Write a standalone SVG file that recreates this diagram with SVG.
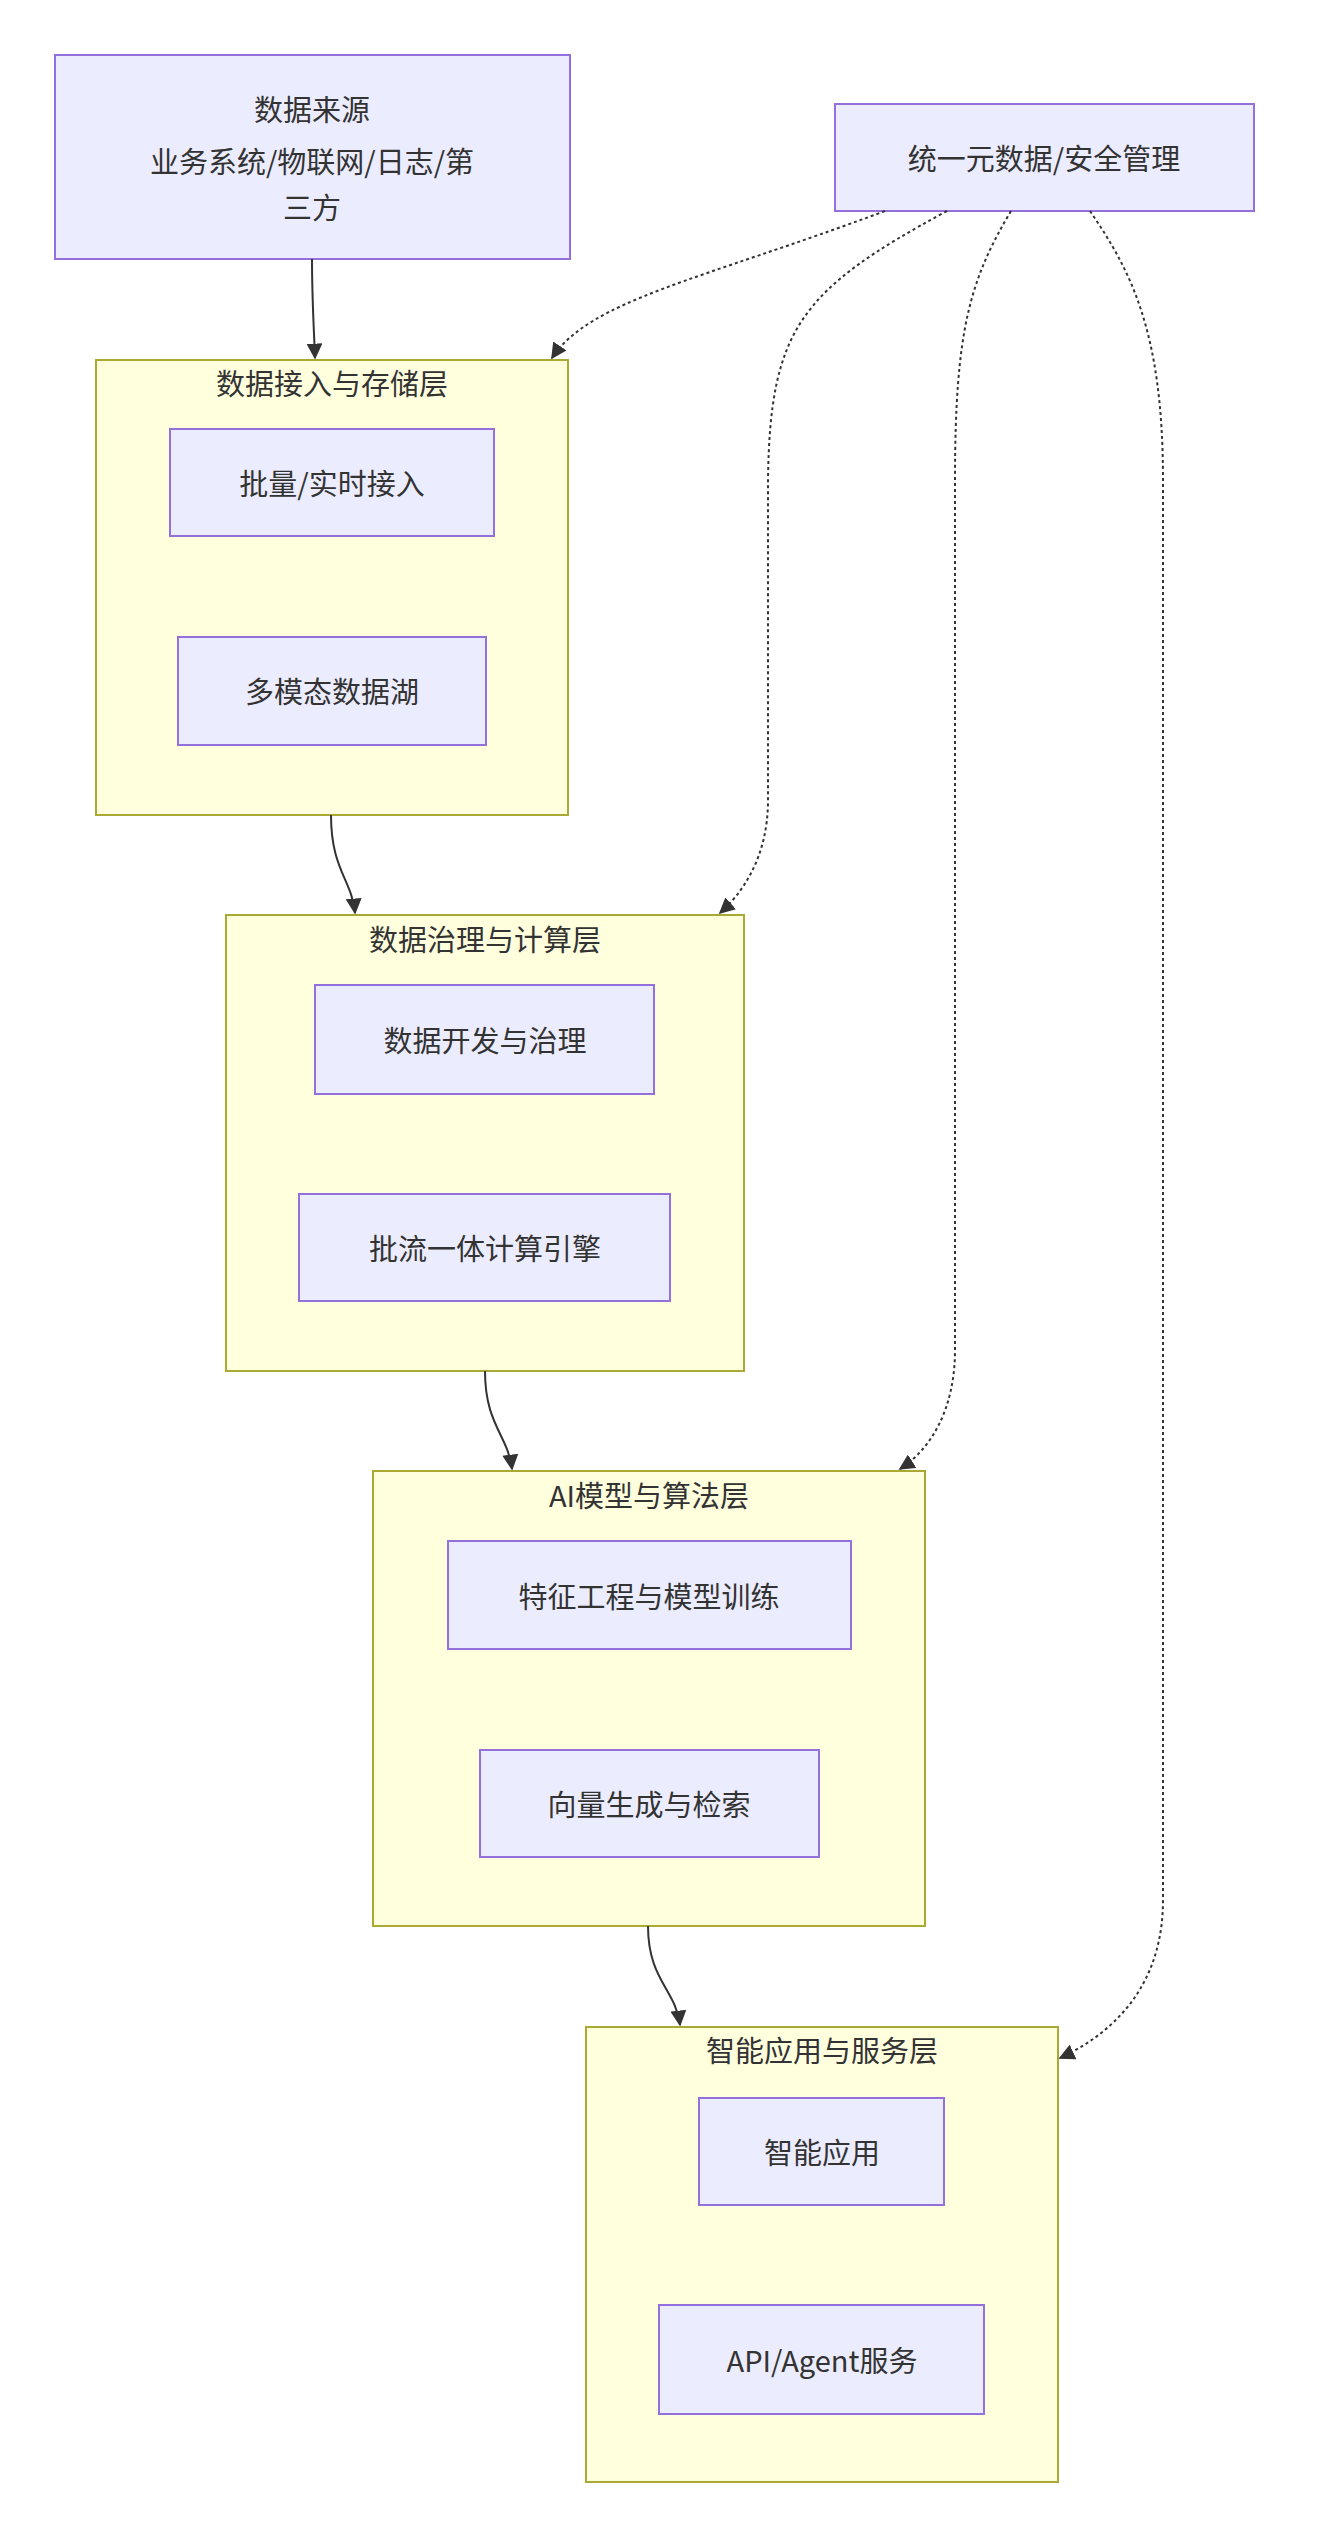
<svg xmlns="http://www.w3.org/2000/svg" width="1326" height="2540" viewBox="0 0 1326 2540">
<style>
.n{fill:#ECECFF;stroke:#9370DB;stroke-width:2}
.c{fill:#FFFFDE;stroke:#AAAA33;stroke-width:2}
text{font-family:"Noto Sans CJK SC","Noto Sans",sans-serif;font-size:29px;fill:#333;text-anchor:middle;dominant-baseline:central}
.e{fill:none;stroke:#333;stroke-width:2}
.d{fill:none;stroke:#333;stroke-width:2;stroke-dasharray:3 3}
</style>
<defs><marker id="a" viewBox="0 0 10 10" refX="9" refY="5" markerWidth="8" markerHeight="8" orient="auto"><path d="M0,0L10,5L0,10z" fill="#333"/></marker></defs>
<rect width="1326" height="2540" fill="#fff"/>
<g id="sg1"><rect class="c" x="96" y="360" width="472" height="455"/><text x="332" y="382">数据接入与存储层</text></g>
<g id="sg2"><rect class="c" x="226" y="915" width="518" height="456"/><text x="485" y="938">数据治理与计算层</text></g>
<g id="sg3"><rect class="c" x="373" y="1471" width="552" height="455"/><text x="649" y="1494">AI模型与算法层</text></g>
<g id="sg4"><rect class="c" x="586" y="2027" width="472" height="455"/><text x="822" y="2049">智能应用与服务层</text></g>
<g id="src"><rect class="n" x="55" y="55" width="515" height="204"/><text x="312" y="108">数据来源</text><text x="312" y="160">业务系统/物联网/日志/第</text><text x="312" y="206">三方</text></g>
<g id="sec"><rect class="n" x="835" y="104" width="419" height="107"/><text x="1044" y="157">统一元数据/安全管理</text></g>
<g id="n1"><rect class="n" x="170" y="429" width="324" height="107"/><text x="332" y="482">批量/实时接入</text></g>
<g id="n2"><rect class="n" x="178" y="637" width="308" height="108"/><text x="332" y="690">多模态数据湖</text></g>
<g id="n3"><rect class="n" x="315" y="985" width="339" height="109"/><text x="485" y="1039">数据开发与治理</text></g>
<g id="n4"><rect class="n" x="299" y="1194" width="371" height="107"/><text x="485" y="1247">批流一体计算引擎</text></g>
<g id="n5"><rect class="n" x="448" y="1541" width="403" height="108"/><text x="649" y="1595">特征工程与模型训练</text></g>
<g id="n6"><rect class="n" x="480" y="1750" width="339" height="107"/><text x="649" y="1803">向量生成与检索</text></g>
<g id="n7"><rect class="n" x="699" y="2098" width="245" height="107"/><text x="822" y="2151">智能应用</text></g>
<g id="n8"><rect class="n" x="659" y="2305" width="325" height="109"/><text x="822" y="2359">API/Agent服务</text></g>
<g id="edges">
<path class="e" d="M312,259 C312,300 314,330 315,358" marker-end="url(#a)"/>
<path class="e" d="M331,815 C331,870 352,880 355,913" marker-end="url(#a)"/>
<path class="e" d="M485,1371 C485,1425 508,1435 512,1469" marker-end="url(#a)"/>
<path class="e" d="M648,1926 C648,1980 676,1990 680,2025" marker-end="url(#a)"/>
<path class="d" d="M885,211 C700,280 590,300 552,358" marker-end="url(#a)"/>
<path class="d" d="M947,211 C800,290 770,330 768,480 L768,800 C768,860 740,895 720,913" marker-end="url(#a)"/>
<path class="d" d="M1011,211 C970,280 955,330 955,480 L955,1350 C955,1410 930,1450 900,1469" marker-end="url(#a)"/>
<path class="d" d="M1090,211 C1130,270 1163,330 1163,480 L1163,1900 C1163,1980 1120,2030 1060,2058" marker-end="url(#a)"/>
</g>
</svg>
